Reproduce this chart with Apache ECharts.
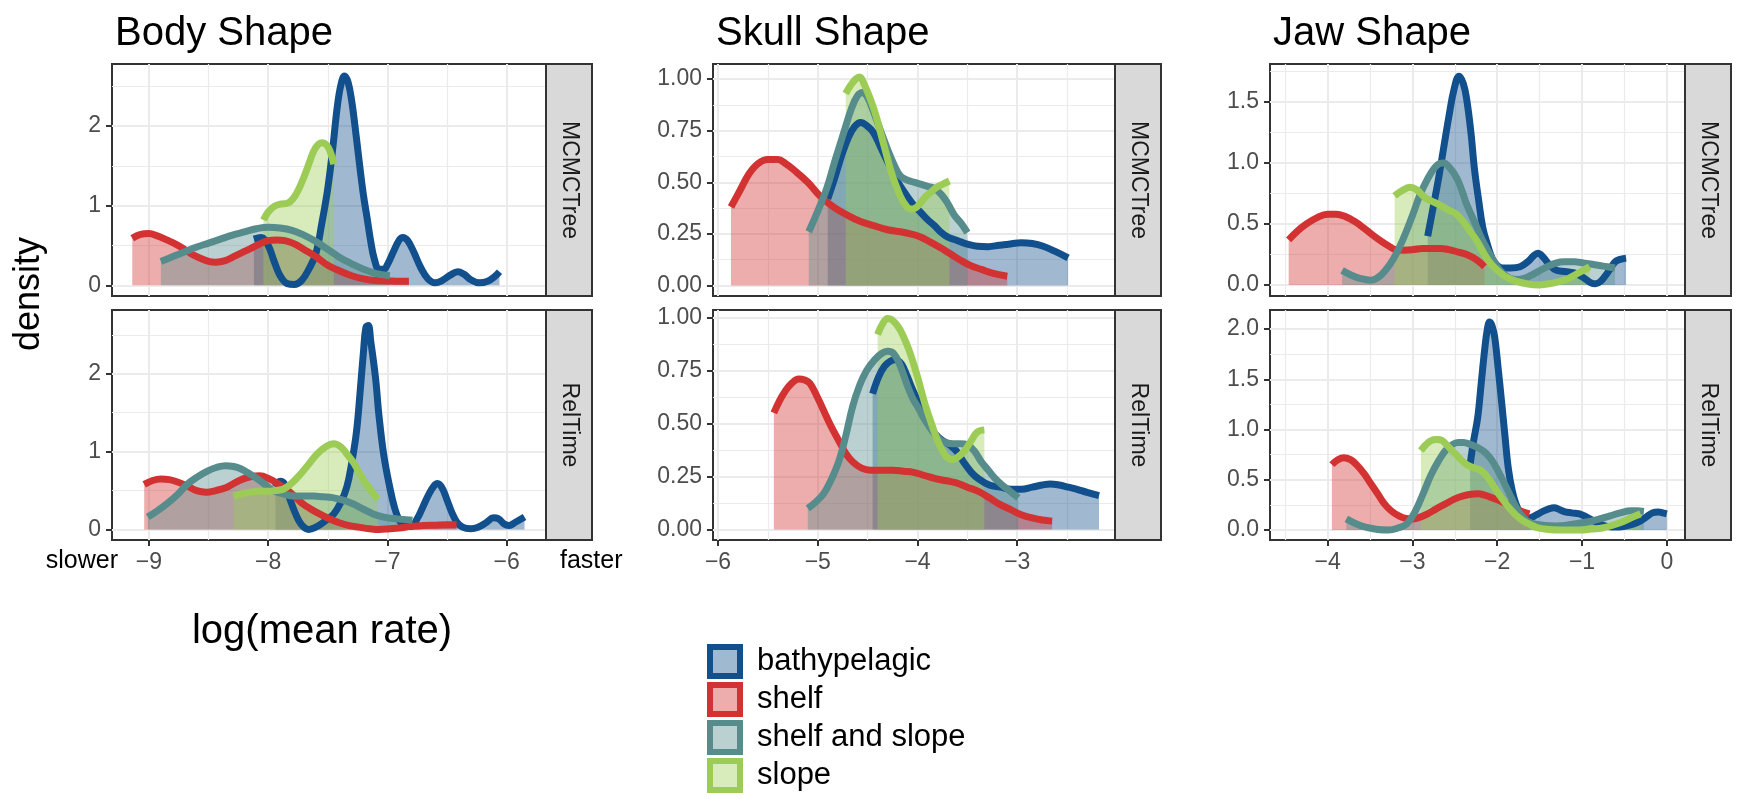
<!DOCTYPE html>
<html>
<head>
<meta charset="utf-8">
<script src="https://cdn.jsdelivr.net/npm/echarts@6.0.0/dist/echarts.min.js"></script>
<style>
  html, body { margin: 0; padding: 0; background: #fff; }
  #chart { width: 1742px; height: 799px; }
</style>
</head>
<body>
<div id="chart"></div>
<script>
var font = "'Liberation Sans', Arial, Helvetica, sans-serif";

var habitats = ['bathypelagic', 'shelf', 'shelf and slope', 'slope'];
var lineColors = ['#11508d', '#d33232', '#568c8b', '#9ccc56'];
var fillColors = ['#9fb9d1', '#edadad', '#bbd1d1', '#d7ebbb'];
var shapeTitles = ['Body Shape', 'Skull Shape', 'Jaw Shape'];
var methods = ['MCMCTree', 'RelTime'];

// tick labels
var bodyXTicks = [-9, -8, -7, -6];
var skullXTicks = [-6, -5, -4, -3];
var jawXTicks = [-4, -3, -2, -1, 0];
var bodyYTicks = [0, 1, 2];
var skullYTicks = [0, 0.25, 0.5, 0.75, 1];
var jawMcmcYTicks = [0, 0.5, 1, 1.5];
var jawRelYTicks = [0, 0.5, 1, 1.5, 2];

// ---- Body shape, MCMCTree ----
var bodyMcmcBathy = [[-8.12,0.58],[-8.06,0.6],[-8.0,0.5],[-7.95,0.3],[-7.9,0.12],[-7.84,0.02],[-7.78,0.01],[-7.72,0.06],[-7.66,0.2],[-7.6,0.4],[-7.55,0.78],[-7.5,1.22],[-7.46,1.7],[-7.42,2.25],[-7.39,2.52],[-7.36,2.63],[-7.33,2.55],[-7.3,2.32],[-7.26,1.85],[-7.23,1.47],[-7.2,1.12],[-7.17,0.84],[-7.14,0.55],[-7.11,0.33],[-7.07,0.2],[-7.03,0.2],[-7.0,0.26],[-6.95,0.42],[-6.9,0.57],[-6.87,0.6],[-6.83,0.56],[-6.78,0.42],[-6.72,0.22],[-6.66,0.08],[-6.6,0.03],[-6.54,0.06],[-6.47,0.13],[-6.41,0.17],[-6.36,0.14],[-6.3,0.07],[-6.23,0.03],[-6.16,0.05],[-6.1,0.11],[-6.06,0.17]];
var bodyMcmcShelf = [[-9.14,0.59],[-9.07,0.64],[-9.0,0.65],[-8.93,0.62],[-8.85,0.57],[-8.78,0.52],[-8.71,0.46],[-8.64,0.39],[-8.57,0.34],[-8.5,0.3],[-8.44,0.29],[-8.36,0.31],[-8.29,0.36],[-8.22,0.41],[-8.15,0.46],[-8.07,0.52],[-8.0,0.56],[-7.93,0.57],[-7.86,0.56],[-7.78,0.52],[-7.7,0.45],[-7.6,0.36],[-7.5,0.25],[-7.4,0.18],[-7.3,0.12],[-7.2,0.08],[-7.1,0.06],[-7.0,0.055],[-6.9,0.05],[-6.82,0.05]];
var bodyMcmcShelfSlope = [[-8.9,0.3],[-8.8,0.36],[-8.7,0.42],[-8.6,0.48],[-8.5,0.53],[-8.4,0.58],[-8.3,0.63],[-8.2,0.67],[-8.1,0.71],[-8.0,0.73],[-7.9,0.72],[-7.8,0.69],[-7.7,0.63],[-7.6,0.55],[-7.5,0.45],[-7.4,0.35],[-7.3,0.27],[-7.2,0.2],[-7.1,0.15],[-6.98,0.12]];
var bodyMcmcSlope = [[-8.04,0.82],[-8.0,0.92],[-7.95,0.99],[-7.9,1.02],[-7.84,1.03],[-7.79,1.09],[-7.74,1.22],[-7.7,1.36],[-7.66,1.52],[-7.62,1.68],[-7.58,1.77],[-7.55,1.79],[-7.51,1.76],[-7.48,1.68],[-7.45,1.52]];

// ---- Body shape, RelTime ----
var bodyRelBathy = [[-7.94,0.55],[-7.9,0.62],[-7.86,0.58],[-7.82,0.4],[-7.77,0.2],[-7.72,0.06],[-7.66,0.0],[-7.6,0.03],[-7.53,0.1],[-7.45,0.2],[-7.39,0.35],[-7.34,0.55],[-7.3,0.85],[-7.26,1.25],[-7.23,1.75],[-7.2,2.3],[-7.18,2.6],[-7.16,2.62],[-7.14,2.42],[-7.1,1.95],[-7.07,1.45],[-7.03,0.95],[-6.98,0.54],[-6.94,0.28],[-6.9,0.12],[-6.85,0.04],[-6.8,0.04],[-6.75,0.14],[-6.7,0.3],[-6.65,0.46],[-6.61,0.56],[-6.58,0.59],[-6.54,0.53],[-6.5,0.38],[-6.46,0.22],[-6.42,0.1],[-6.37,0.03],[-6.3,0.01],[-6.24,0.03],[-6.17,0.09],[-6.11,0.15],[-6.07,0.14],[-6.02,0.07],[-5.98,0.05],[-5.93,0.09],[-5.85,0.16]];
var bodyRelShelf = [[-9.04,0.58],[-8.97,0.63],[-8.9,0.65],[-8.83,0.64],[-8.76,0.61],[-8.68,0.56],[-8.6,0.5],[-8.52,0.48],[-8.44,0.5],[-8.35,0.54],[-8.28,0.6],[-8.21,0.65],[-8.14,0.68],[-8.07,0.69],[-7.99,0.65],[-7.92,0.59],[-7.85,0.52],[-7.78,0.43],[-7.71,0.33],[-7.64,0.26],[-7.57,0.2],[-7.49,0.14],[-7.41,0.09],[-7.32,0.05],[-7.24,0.03],[-7.15,0.01],[-7.07,0.0],[-6.98,0.01],[-6.9,0.02],[-6.8,0.04],[-6.7,0.05],[-6.6,0.055],[-6.5,0.06],[-6.42,0.06]];
var bodyRelShelfSlope = [[-9.01,0.16],[-8.93,0.24],[-8.85,0.33],[-8.76,0.45],[-8.68,0.58],[-8.6,0.67],[-8.51,0.75],[-8.43,0.8],[-8.36,0.82],[-8.29,0.81],[-8.23,0.78],[-8.16,0.72],[-8.09,0.65],[-8.02,0.57],[-7.96,0.5],[-7.88,0.46],[-7.79,0.43],[-7.7,0.43],[-7.62,0.43],[-7.54,0.42],[-7.46,0.41],[-7.38,0.38],[-7.29,0.33],[-7.2,0.26],[-7.12,0.2],[-7.03,0.16],[-6.95,0.14],[-6.87,0.13],[-6.79,0.12]];
var bodyRelSlope = [[-8.29,0.43],[-8.22,0.46],[-8.15,0.48],[-8.08,0.49],[-8.01,0.49],[-7.94,0.5],[-7.87,0.52],[-7.8,0.6],[-7.73,0.71],[-7.66,0.84],[-7.59,0.97],[-7.52,1.06],[-7.45,1.1],[-7.39,1.06],[-7.34,0.97],[-7.28,0.85],[-7.23,0.71],[-7.16,0.55],[-7.08,0.39]];

// ---- Skull shape, MCMCTree ----
var skullMcmcBathy = [[-4.9,0.42],[-4.83,0.52],[-4.76,0.63],[-4.69,0.72],[-4.63,0.77],[-4.57,0.79],[-4.51,0.775],[-4.44,0.74],[-4.37,0.67],[-4.3,0.6],[-4.23,0.53],[-4.17,0.48],[-4.1,0.43],[-4.03,0.385],[-3.96,0.35],[-3.9,0.32],[-3.83,0.29],[-3.76,0.256],[-3.7,0.235],[-3.63,0.223],[-3.56,0.21],[-3.5,0.2],[-3.4,0.19],[-3.29,0.188],[-3.18,0.195],[-3.09,0.2],[-2.96,0.207],[-2.85,0.203],[-2.74,0.19],[-2.62,0.165],[-2.49,0.134]];
var skullMcmcShelf = [[-5.87,0.38],[-5.78,0.46],[-5.69,0.54],[-5.6,0.59],[-5.5,0.61],[-5.4,0.61],[-5.32,0.59],[-5.24,0.56],[-5.1,0.5],[-4.97,0.43],[-4.84,0.38],[-4.7,0.34],[-4.57,0.31],[-4.44,0.29],[-4.3,0.27],[-4.17,0.26],[-4.07,0.25],[-3.97,0.235],[-3.87,0.21],[-3.76,0.18],[-3.66,0.15],[-3.56,0.12],[-3.46,0.095],[-3.36,0.078],[-3.25,0.06],[-3.1,0.045]];
var skullMcmcShelfSlope = [[-5.09,0.26],[-5.0,0.36],[-4.91,0.47],[-4.83,0.6],[-4.74,0.74],[-4.66,0.86],[-4.6,0.92],[-4.55,0.935],[-4.5,0.91],[-4.44,0.84],[-4.37,0.75],[-4.3,0.66],[-4.23,0.58],[-4.17,0.53],[-4.1,0.51],[-4.03,0.5],[-3.96,0.49],[-3.9,0.48],[-3.83,0.47],[-3.76,0.44],[-3.7,0.4],[-3.63,0.34],[-3.56,0.3],[-3.5,0.256]];
var skullMcmcSlope = [[-4.72,0.93],[-4.67,0.97],[-4.62,1.0],[-4.58,1.01],[-4.53,0.97],[-4.47,0.9],[-4.42,0.83],[-4.37,0.74],[-4.32,0.65],[-4.27,0.56],[-4.22,0.49],[-4.17,0.43],[-4.12,0.39],[-4.07,0.37],[-4.02,0.375],[-3.97,0.4],[-3.92,0.43],[-3.87,0.45],[-3.81,0.475],[-3.75,0.49],[-3.68,0.506]];

// ---- Skull shape, RelTime ----
var skullRelBathy = [[-4.45,0.64],[-4.39,0.72],[-4.33,0.77],[-4.27,0.795],[-4.22,0.8],[-4.16,0.78],[-4.11,0.73],[-4.04,0.65],[-3.96,0.57],[-3.89,0.5],[-3.82,0.45],[-3.75,0.42],[-3.68,0.4],[-3.61,0.37],[-3.54,0.32],[-3.46,0.27],[-3.39,0.24],[-3.28,0.21],[-3.17,0.2],[-3.06,0.19],[-2.96,0.19],[-2.85,0.2],[-2.75,0.21],[-2.67,0.215],[-2.58,0.21],[-2.49,0.2],[-2.4,0.19],[-2.3,0.175],[-2.18,0.16]];
var skullRelShelf = [[-5.44,0.55],[-5.38,0.61],[-5.33,0.65],[-5.26,0.69],[-5.19,0.71],[-5.13,0.705],[-5.08,0.69],[-5.01,0.63],[-4.94,0.56],[-4.87,0.49],[-4.79,0.42],[-4.72,0.36],[-4.65,0.32],[-4.56,0.29],[-4.47,0.28],[-4.36,0.28],[-4.25,0.28],[-4.14,0.275],[-4.04,0.27],[-3.93,0.255],[-3.82,0.24],[-3.71,0.23],[-3.61,0.22],[-3.5,0.2],[-3.39,0.18],[-3.28,0.15],[-3.18,0.12],[-3.07,0.095],[-2.96,0.07],[-2.85,0.055],[-2.75,0.045],[-2.65,0.04]];
var skullRelShelfSlope = [[-5.1,0.1],[-5.02,0.13],[-4.94,0.17],[-4.87,0.23],[-4.79,0.32],[-4.72,0.44],[-4.65,0.58],[-4.58,0.68],[-4.51,0.75],[-4.43,0.8],[-4.36,0.83],[-4.3,0.84],[-4.24,0.83],[-4.18,0.78],[-4.11,0.69],[-4.05,0.62],[-4.0,0.58],[-3.93,0.52],[-3.86,0.47],[-3.79,0.43],[-3.72,0.41],[-3.65,0.405],[-3.57,0.405],[-3.5,0.4],[-3.43,0.37],[-3.36,0.32],[-3.29,0.28],[-3.22,0.24],[-3.15,0.21],[-3.07,0.18],[-2.99,0.15]];
var skullRelSlope = [[-4.4,0.92],[-4.35,0.97],[-4.3,0.995],[-4.26,0.99],[-4.2,0.96],[-4.15,0.92],[-4.08,0.84],[-4.0,0.72],[-3.93,0.6],[-3.86,0.5],[-3.79,0.41],[-3.72,0.35],[-3.66,0.33],[-3.6,0.34],[-3.53,0.37],[-3.46,0.42],[-3.4,0.46],[-3.33,0.47]];

// ---- Jaw shape, MCMCTree ----
var jawMcmcBathy = [[-2.82,0.4],[-2.76,0.62],[-2.69,0.88],[-2.63,1.13],[-2.57,1.38],[-2.51,1.6],[-2.45,1.71],[-2.4,1.65],[-2.36,1.52],[-2.31,1.25],[-2.27,0.96],[-2.22,0.7],[-2.17,0.47],[-2.11,0.32],[-2.06,0.22],[-2.0,0.16],[-1.94,0.14],[-1.84,0.14],[-1.73,0.15],[-1.64,0.19],[-1.57,0.24],[-1.52,0.26],[-1.46,0.23],[-1.39,0.17],[-1.3,0.12],[-1.2,0.11],[-1.09,0.1],[-1.03,0.08],[-0.97,0.055],[-0.9,0.02],[-0.84,0.01],[-0.78,0.03],[-0.72,0.08],[-0.66,0.14],[-0.61,0.19],[-0.55,0.21],[-0.48,0.22]];
var jawMcmcShelf = [[-4.46,0.37],[-4.36,0.44],[-4.25,0.5],[-4.13,0.55],[-4.0,0.58],[-3.9,0.58],[-3.79,0.56],[-3.68,0.52],[-3.58,0.47],[-3.47,0.41],[-3.37,0.36],[-3.28,0.32],[-3.2,0.29],[-3.1,0.285],[-2.99,0.29],[-2.88,0.3],[-2.78,0.3],[-2.67,0.3],[-2.57,0.29],[-2.46,0.27],[-2.36,0.25],[-2.25,0.21],[-2.15,0.15]];
var jawMcmcShelfSlope = [[-3.83,0.12],[-3.72,0.08],[-3.62,0.055],[-3.49,0.04],[-3.41,0.06],[-3.33,0.11],[-3.22,0.22],[-3.12,0.36],[-3.01,0.55],[-2.91,0.74],[-2.82,0.87],[-2.74,0.96],[-2.68,0.995],[-2.63,1.0],[-2.56,0.96],[-2.48,0.88],[-2.42,0.78],[-2.36,0.66],[-2.27,0.52],[-2.19,0.39],[-2.1,0.27],[-2.02,0.17],[-1.94,0.1],[-1.85,0.055],[-1.76,0.045],[-1.68,0.055],[-1.6,0.08],[-1.52,0.11],[-1.41,0.15],[-1.31,0.18],[-1.2,0.19],[-1.09,0.19],[-0.98,0.18],[-0.88,0.17],[-0.75,0.155],[-0.61,0.14]];
var jawMcmcSlope = [[-3.21,0.73],[-3.13,0.77],[-3.03,0.8],[-2.95,0.78],[-2.86,0.72],[-2.78,0.69],[-2.69,0.66],[-2.59,0.62],[-2.48,0.58],[-2.4,0.52],[-2.32,0.44],[-2.23,0.35],[-2.15,0.25],[-2.07,0.17],[-1.98,0.11],[-1.88,0.06],[-1.77,0.03],[-1.65,0.01],[-1.52,0.0],[-1.39,0.01],[-1.26,0.03],[-1.17,0.05],[-1.09,0.08],[-1.0,0.115],[-0.91,0.15]];

// ---- Jaw shape, RelTime ----
var jawRelBathy = [[-2.32,0.65],[-2.28,0.88],[-2.23,1.12],[-2.19,1.45],[-2.15,1.78],[-2.12,1.98],[-2.09,2.07],[-2.06,2.03],[-2.03,1.92],[-1.99,1.62],[-1.95,1.29],[-1.91,0.95],[-1.87,0.62],[-1.82,0.38],[-1.76,0.22],[-1.69,0.14],[-1.62,0.12],[-1.54,0.15],[-1.45,0.19],[-1.39,0.21],[-1.33,0.22],[-1.26,0.2],[-1.2,0.18],[-1.12,0.17],[-1.03,0.16],[-0.95,0.13],[-0.86,0.09],[-0.76,0.05],[-0.65,0.03],[-0.56,0.03],[-0.48,0.04],[-0.39,0.06],[-0.31,0.09],[-0.24,0.13],[-0.17,0.17],[-0.1,0.18],[-0.05,0.17],[0.0,0.16]];
var jawRelShelf = [[-3.95,0.65],[-3.88,0.7],[-3.81,0.72],[-3.73,0.7],[-3.66,0.65],[-3.57,0.56],[-3.49,0.46],[-3.41,0.36],[-3.33,0.26],[-3.25,0.19],[-3.16,0.14],[-3.08,0.115],[-2.99,0.11],[-2.9,0.13],[-2.82,0.16],[-2.72,0.21],[-2.61,0.26],[-2.5,0.31],[-2.4,0.34],[-2.31,0.355],[-2.23,0.36],[-2.14,0.345],[-2.06,0.32],[-1.97,0.29],[-1.89,0.26],[-1.81,0.22],[-1.73,0.19],[-1.62,0.16]];
var jawRelShelfSlope = [[-3.78,0.11],[-3.66,0.06],[-3.54,0.025],[-3.41,0.005],[-3.28,0.0],[-3.17,0.02],[-3.07,0.06],[-2.97,0.18],[-2.86,0.39],[-2.78,0.55],[-2.69,0.69],[-2.61,0.79],[-2.53,0.85],[-2.46,0.87],[-2.4,0.87],[-2.31,0.85],[-2.23,0.82],[-2.14,0.77],[-2.06,0.69],[-1.98,0.57],[-1.89,0.42],[-1.81,0.28],[-1.73,0.16],[-1.65,0.09],[-1.56,0.06],[-1.44,0.045],[-1.31,0.04],[-1.2,0.045],[-1.09,0.06],[-0.98,0.075],[-0.88,0.09],[-0.77,0.115],[-0.67,0.14],[-0.55,0.17],[-0.42,0.19],[-0.35,0.19],[-0.27,0.185]];
var jawRelSlope = [[-2.9,0.79],[-2.84,0.85],[-2.78,0.89],[-2.71,0.9],[-2.65,0.89],[-2.59,0.84],[-2.53,0.79],[-2.45,0.72],[-2.36,0.65],[-2.28,0.62],[-2.19,0.59],[-2.11,0.52],[-2.03,0.42],[-1.95,0.32],[-1.86,0.22],[-1.77,0.14],[-1.69,0.09],[-1.6,0.05],[-1.52,0.02],[-1.39,0.005],[-1.26,0.0],[-1.13,0.0],[-1.01,0.0],[-0.89,0.01],[-0.76,0.02],[-0.63,0.05],[-0.5,0.09],[-0.4,0.13],[-0.31,0.16]];

// panel layout (pixels)
var colBox = [[112, 546], [713, 1115], [1270, 1685]];
var rowBox = [[64, 296], [310, 540]];
var stripW = 46;

var panels = [
  {col: 0, row: 0, xr: [-9.31, -5.67], yr: [-0.135, 2.78], xt: bodyXTicks, yt: bodyYTicks, dec: 0,
   curves: [bodyMcmcBathy, bodyMcmcShelf, bodyMcmcShelfSlope, bodyMcmcSlope]},
  {col: 0, row: 1, xr: [-9.31, -5.67], yr: [-0.135, 2.82], xt: bodyXTicks, yt: bodyYTicks, dec: 0,
   curves: [bodyRelBathy, bodyRelShelf, bodyRelShelfSlope, bodyRelSlope]},
  {col: 1, row: 0, xr: [-6.05, -2.02], yr: [-0.051, 1.073], xt: skullXTicks, yt: skullYTicks, dec: 2,
   curves: [skullMcmcBathy, skullMcmcShelf, skullMcmcShelfSlope, skullMcmcSlope]},
  {col: 1, row: 1, xr: [-6.05, -2.02], yr: [-0.049, 1.035], xt: skullXTicks, yt: skullYTicks, dec: 2,
   curves: [skullRelBathy, skullRelShelf, skullRelShelfSlope, skullRelSlope]},
  {col: 2, row: 0, xr: [-4.68, 0.215], yr: [-0.09, 1.81], xt: jawXTicks, yt: jawMcmcYTicks, dec: 1,
   curves: [jawMcmcBathy, jawMcmcShelf, jawMcmcShelfSlope, jawMcmcSlope]},
  {col: 2, row: 1, xr: [-4.68, 0.215], yr: [-0.1, 2.19], xt: jawXTicks, yt: jawRelYTicks, dec: 1,
   curves: [jawRelBathy, jawRelShelf, jawRelShelfSlope, jawRelSlope]}
];

function minorsOf(ticks, lo, hi) {
  var step = ticks[1] - ticks[0], out = [];
  for (var k = -20; k < 40; k++) {
    var v = ticks[0] + step * (k + 0.5);
    if (v > lo && v < hi) out.push(+v.toFixed(4));
  }
  return out;
}

function fmt(dec) {
  return function (v) {
    var s = Math.abs(v).toFixed(dec);
    return v < 0 ? '\u2212' + s : s;
  };
}

var grids = [], xAxes = [], yAxes = [], series = [], graphics = [];
var tickStyle = {color: '#333333', width: 2};
var gridMajor = {color: '#ebebeb', width: 2};
var gridMinor = {color: '#ebebeb', width: 1.2};
var noLine = {show: false, onZero: false};

panels.forEach(function (p, i) {
  var cx = colBox[p.col], ry = rowBox[p.row];
  var bottomRow = p.row === 1;
  grids.push({
    left: cx[0], top: ry[0], width: cx[1] - cx[0], height: ry[1] - ry[0],
    show: true, backgroundColor: '#fff', borderColor: '#333333', borderWidth: 2
  });
  // major x
  xAxes.push({
    type: 'value', gridIndex: i, position: 'bottom', min: p.xr[0], max: p.xr[1],
    axisLine: noLine,
    axisTick: {show: bottomRow, customValues: p.xt, length: 6, lineStyle: tickStyle},
    axisLabel: {show: bottomRow, customValues: p.xt, margin: 11, color: '#4d4d4d',
      fontSize: 23, fontFamily: font, formatter: fmt(0)},
    splitLine: {show: true, lineStyle: gridMajor}
  });
  // minor x
  xAxes.push({
    type: 'value', gridIndex: i, position: 'top', min: p.xr[0], max: p.xr[1],
    axisLine: noLine,
    axisTick: {show: false, customValues: minorsOf(p.xt, p.xr[0], p.xr[1])},
    axisLabel: {show: false},
    splitLine: {show: true, lineStyle: gridMinor}
  });
  // major y
  yAxes.push({
    type: 'value', gridIndex: i, position: 'left', min: p.yr[0], max: p.yr[1],
    axisLine: noLine,
    axisTick: {show: true, customValues: p.yt, length: 6, lineStyle: tickStyle},
    axisLabel: {show: true, customValues: p.yt, margin: 11, color: '#4d4d4d',
      fontSize: 23, fontFamily: font, formatter: fmt(p.dec)},
    splitLine: {show: true, lineStyle: gridMajor}
  });
  // minor y
  yAxes.push({
    type: 'value', gridIndex: i, position: 'right', min: p.yr[0], max: p.yr[1],
    axisLine: noLine,
    axisTick: {show: false, customValues: minorsOf(p.yt, p.yr[0], p.yr[1])},
    axisLabel: {show: false},
    splitLine: {show: true, lineStyle: gridMinor}
  });

  p.curves.forEach(function (curve, h) {
    series.push({
      name: habitats[h], type: 'line', xAxisIndex: 2 * i, yAxisIndex: 2 * i,
      data: curve, smooth: 0.4, symbol: 'none', silent: true,
      lineStyle: {color: lineColors[h], width: 7, cap: 'butt', join: 'round'},
      itemStyle: {color: lineColors[h]},
      areaStyle: {color: lineColors[h], opacity: 0.4},
      emphasis: {disabled: true}
    });
  });

  // facet strip
  graphics.push({
    type: 'rect', z: 100,
    shape: {x: cx[1], y: ry[0], width: stripW, height: ry[1] - ry[0]},
    style: {fill: '#d9d9d9', stroke: '#333333', lineWidth: 2}
  });
  graphics.push({
    type: 'text', z: 101, x: cx[1] + stripW / 2, y: (ry[0] + ry[1]) / 2, rotation: -Math.PI / 2,
    style: {text: methods[p.row], font: '23px ' + font, fill: '#1a1a1a', align: 'center', verticalAlign: 'middle'}
  });
});

shapeTitles.forEach(function (t, c) {
  graphics.push({
    type: 'text', z: 101, x: colBox[c][0] + 3, y: 34,
    style: {text: t, font: '40px ' + font, fill: '#000', align: 'left', verticalAlign: 'middle'}
  });
});

graphics.push({
  type: 'text', z: 101, x: 29, y: 294, rotation: Math.PI / 2,
  style: {text: 'density', font: '36px ' + font, fill: '#000', align: 'center', verticalAlign: 'middle'}
});
graphics.push({
  type: 'text', z: 101, x: 118, y: 561,
  style: {text: 'slower', font: '25px ' + font, fill: '#000', align: 'right', verticalAlign: 'middle'}
});
graphics.push({
  type: 'text', z: 101, x: 560, y: 561,
  style: {text: 'faster', font: '25px ' + font, fill: '#000', align: 'left', verticalAlign: 'middle'}
});
graphics.push({
  type: 'text', z: 101, x: 322, y: 632,
  style: {text: 'log(mean rate)', font: '40px ' + font, fill: '#000', align: 'center', verticalAlign: 'middle'}
});

var chart = echarts.init(document.getElementById('chart'), null, {renderer: 'canvas'});
chart.setOption({
  animation: false,
  backgroundColor: '#fff',
  grid: grids,
  xAxis: xAxes,
  yAxis: yAxes,
  legend: {
    orient: 'vertical', left: 707, top: 644, padding: 0,
    itemWidth: 30, itemHeight: 29, itemGap: 3, icon: 'rect',
    selectedMode: false,
    textStyle: {fontSize: 31, fontFamily: font, color: '#000', padding: [0, 0, 0, 12]},
    data: habitats.map(function (h, k) {
      return {name: h, itemStyle: {color: fillColors[k], borderColor: lineColors[k], borderWidth: 6}};
    })
  },
  graphic: graphics,
  series: series
});
</script>
</body>
</html>
